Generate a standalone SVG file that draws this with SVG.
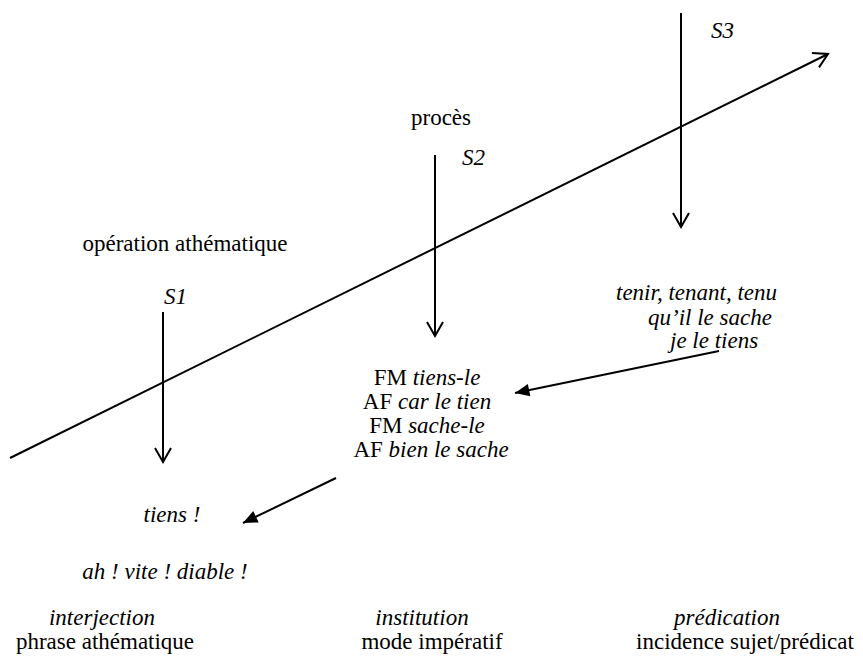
<svg xmlns="http://www.w3.org/2000/svg" width="863" height="670" viewBox="0 0 863 670">
<style>
text{font-family:'Liberation Serif','Times New Roman',serif;font-size:23px;fill:#000}
.i{font-style:italic}
.m{text-anchor:middle}
.ln{stroke:#000;stroke-width:2;fill:none}
</style>
<defs>
<marker id="open" viewBox="0 0 20 20" refX="18" refY="10" markerWidth="20" markerHeight="20" markerUnits="userSpaceOnUse" orient="auto">
<path d="M4,2 L18,10 L4,18" fill="none" stroke="#000" stroke-width="2"/>
</marker>
<marker id="fill" viewBox="0 0 20 20" refX="18" refY="10" markerWidth="18" markerHeight="18" markerUnits="userSpaceOnUse" orient="auto">
<path d="M2,3 L18,10 L2,17 Z" fill="#000"/>
</marker>
</defs>
<g id="connectors">
<line class="ln" x1="10" y1="458" x2="828" y2="54" marker-end="url(#open)"/>
<line class="ln" x1="681" y1="13" x2="681" y2="227" marker-end="url(#open)"/>
<line class="ln" x1="435" y1="155" x2="435" y2="336" marker-end="url(#open)"/>
<line class="ln" x1="163" y1="312" x2="163" y2="462" marker-end="url(#open)"/>
<line class="ln" x1="719" y1="351" x2="515" y2="393" marker-end="url(#fill)"/>
<line class="ln" x1="336" y1="478" x2="243" y2="523" marker-end="url(#fill)"/>
</g>
<g id="s3">
<text class="i" x="711" y="38">S3</text>
</g>
<g id="s2">
<text class="m" x="441" y="125">procès</text>
<text class="i" x="462" y="165">S2</text>
</g>
<g id="s1">
<text class="m" x="185" y="251">opération athématique</text>
<text class="i" x="164" y="304">S1</text>
</g>
<g id="predication-forms">
<text class="i" x="616" y="300">tenir, tenant, tenu</text>
<text class="i" x="648" y="325">qu’il le sache</text>
<text class="i" x="670" y="348">je le tiens</text>
</g>
<g id="institution-forms">
<text class="m" x="427" y="385">FM <tspan class="i">tiens-le</tspan></text>
<text class="m" x="427" y="409">AF <tspan class="i">car le tien</tspan></text>
<text class="m" x="427" y="433">FM <tspan class="i">sache-le</tspan></text>
<text class="m" x="431" y="457">AF <tspan class="i">bien le sache</tspan></text>
</g>
<g id="interjection-forms">
<text class="i m" x="172" y="522">tiens !</text>
<text class="i m" x="165" y="579">ah ! vite ! diable !</text>
</g>
<g id="labels">
<text class="i m" x="102" y="625">interjection</text>
<text class="m" x="105" y="649">phrase athématique</text>
<text class="i m" x="422" y="625">institution</text>
<text class="m" x="432" y="649">mode impératif</text>
<text class="i m" x="727" y="625">prédication</text>
<text class="m" x="745" y="649">incidence sujet/prédicat</text>
</g>
</svg>
